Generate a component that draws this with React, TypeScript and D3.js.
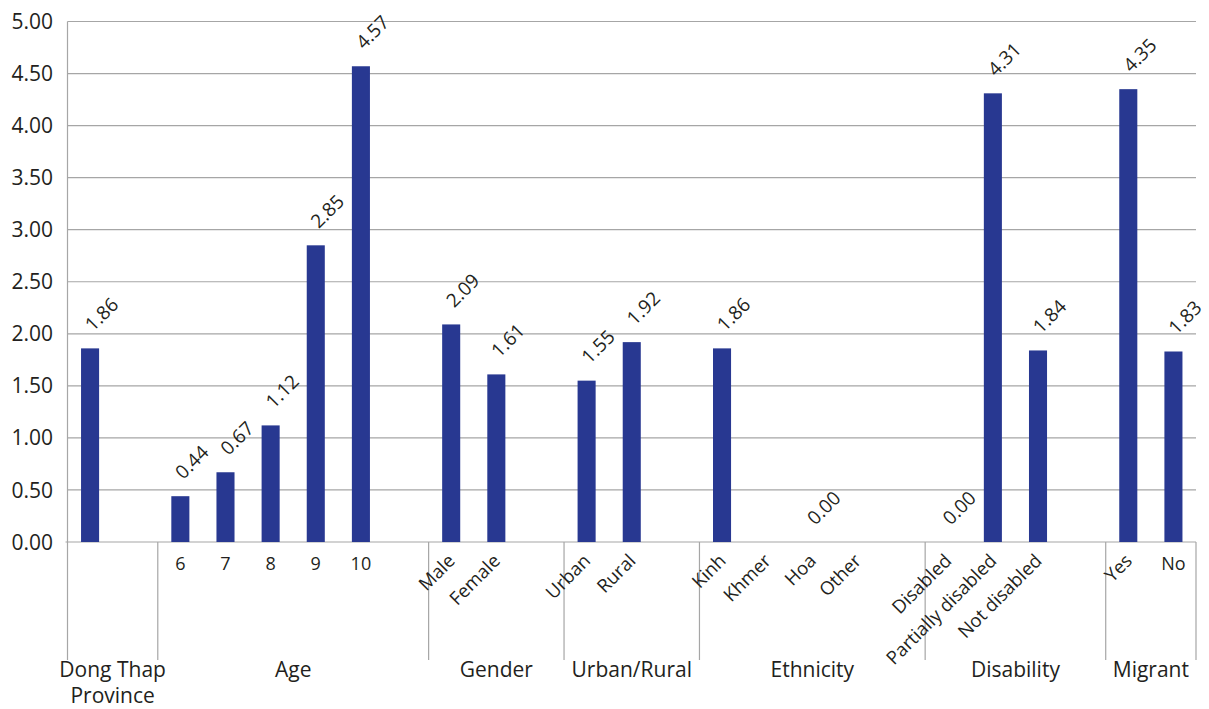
import React from "react";
import * as d3 from "d3";

const tickLabels: string[] = [
  "", "", "6", "7", "8", "9", "10", "",
  "Male", "Female", "",
  "Urban", "Rural", "",
  "Kinh", "Khmer", "Hoa", "Other", "",
  "Disabled", "Partially disabled", "Not disabled", "",
  "Yes", "No",
];

const values: (number | null)[] = [
  1.86, null, 0.44, 0.67, 1.12, 2.85, 4.57, null,
  2.09, 1.61, null,
  1.55, 1.92, null,
  1.86, null, 0.0, null, null,
  0.0, 4.31, 1.84, null,
  4.35, 1.83,
];

const groupNames: string[][] = [
  ["Dong Thap", "Province"],
  ["Age"],
  ["Gender"],
  ["Urban/Rural"],
  ["Ethnicity"],
  ["Disability"],
  ["Migrant"],
];
const groupStarts: number[] = [0, 2, 8, 11, 14, 19, 23];
const groupEnds: number[] = [1, 7, 10, 13, 18, 22, 24];

const yTicks: number[] = [0, 0.5, 1, 1.5, 2, 2.5, 3, 3.5, 4, 4.5, 5];

const W = 1209;
const H = 709;
const LEFT = 67.5;
const RIGHT = 1196;
const TOP = 21.5;
const BOTTOM = 542;
const SEP_BOTTOM = 660;
const BAR_COLOR = "#283891";
const GRID = "#a6a6a6";
const TEXT = "#231f20";
const FONT = "'Open Sans', 'Noto Sans', sans-serif";

export default function App() {
  const idx = tickLabels.map((_, i) => String(i));
  const x = d3.scaleBand<string>().domain(idx).range([LEFT, RIGHT]).padding(0);
  const y = d3.scaleLinear().domain([0, 5]).range([BOTTOM, TOP]);
  const bw = x.bandwidth() * 0.4;
  const cx = (i: number) => (x(String(i)) as number) + x.bandwidth() / 2;
  const fmt = d3.format(".2f");

  const sepX = groupEnds.map((e) => (x(String(e)) as number) + x.bandwidth());

  return (
    <svg
      width={W}
      height={H}
      style={{ position: "absolute", left: 0, top: 0, background: "#fff" }}
      fontFamily={FONT}
    >
      {/* gridlines */}
      {yTicks.map((t) => (
        <line
          key={"g" + t}
          x1={t === 0 ? LEFT - 2 : LEFT}
          x2={RIGHT}
          y1={y(t)}
          y2={y(t)}
          stroke={GRID}
          strokeWidth={1.2}
        />
      ))}
      {/* y axis labels */}
      {yTicks.map((t) => (
        <text
          key={"yl" + t}
          x={53}
          y={y(t)}
          dy="0.36em"
          textAnchor="end"
          fontSize={21}
          fill={TEXT}
        >
          {fmt(t)}
        </text>
      ))}
      {/* left axis & separators */}
      <line x1={LEFT} x2={LEFT} y1={TOP} y2={SEP_BOTTOM} stroke={GRID} strokeWidth={1.2} />
      {sepX.map((sx, i) => (
        <line
          key={"s" + i}
          x1={sx}
          x2={sx}
          y1={BOTTOM}
          y2={SEP_BOTTOM}
          stroke={GRID}
          strokeWidth={1.2}
        />
      ))}
      {/* bars */}
      {values.map((v, i) =>
        v === null ? null : (
          <rect
            key={"b" + i}
            x={cx(i) - bw / 2}
            y={y(v)}
            width={bw}
            height={BOTTOM - y(v)}
            fill={BAR_COLOR}
          />
        )
      )}
      {/* value labels */}
      {values.map((v, i) =>
        v === null ? null : (
          <text
            key={"v" + i}
            transform={`translate(${cx(i) + 3},${y(v) - 16}) rotate(-45)`}
            fontSize={19}
            fill={TEXT}
          >
            {fmt(v)}
          </text>
        )
      )}
      {/* category labels */}
      {tickLabels.map((l, i) => {
        if (!l) return null;
        if (l.length <= 2) {
          return (
            <text
              key={"c" + i}
              x={cx(i)}
              y={570}
              textAnchor="middle"
              fontSize={18}
              fill={TEXT}
            >
              {l}
            </text>
          );
        }
        return (
          <text
            key={"c" + i}
            transform={`translate(${cx(i) + 5},${562}) rotate(-45)`}
            textAnchor="end"
            fontSize={18.5}
            fill={TEXT}
          >
            {l}
          </text>
        );
      })}
      {/* group labels */}
      {groupNames.map((lines, g) => {
        const x0 = x(String(groupStarts[g])) as number;
        const x1 = (x(String(groupEnds[g])) as number) + x.bandwidth();
        const mid = (x0 + x1) / 2;
        return (
          <text key={"grp" + g} x={mid} y={677} textAnchor="middle" fontSize={21} fill={TEXT}>
            {lines.map((ln, k) => (
              <tspan key={k} x={mid} dy={k === 0 ? 0 : 26}>
                {ln}
              </tspan>
            ))}
          </text>
        );
      })}
    </svg>
  );
}
